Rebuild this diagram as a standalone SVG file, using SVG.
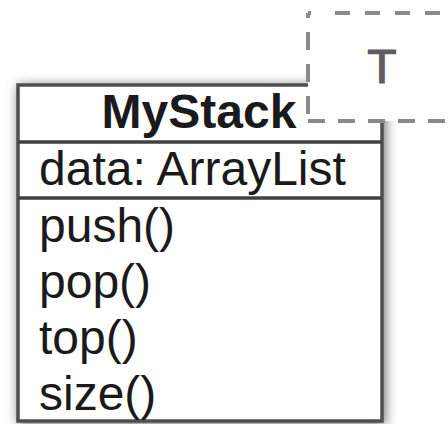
<svg xmlns="http://www.w3.org/2000/svg" width="448" height="424" viewBox="0 0 448 424">
  <defs>
    <filter id="shadow" x="-20%" y="-20%" width="140%" height="140%">
      <feDropShadow dx="2" dy="2" stdDeviation="6" flood-color="#000" flood-opacity="0.55"/>
    </filter>
  </defs>
  <style>
    .frame { fill: #fff; stroke: #505050; stroke-width: 3.5; }
    .rule { stroke: #404040; stroke-width: 3.5; }
    .name { font-family: "Liberation Sans", Arial, sans-serif; font-size: 48px; font-weight: bold; fill: #1a1a1a; }
    .item { font-family: "Liberation Sans", Arial, sans-serif; font-size: 48px; fill: #1a1a1a; }
    .pbox { fill: #fff; stroke: none; }
    .dash { fill: none; stroke: #8a8a8a; stroke-width: 4; }
    .ptext { font-family: "Liberation Sans", Arial, sans-serif; font-size: 48px; fill: #5e5e5e; stroke: #5e5e5e; stroke-width: 1.2; }
  </style>

  <!-- class box -->
  <g id="MyStack">
    <rect class="frame" x="18" y="85" width="364" height="336" filter="url(#shadow)"/>
    <line class="rule" x1="18" y1="142" x2="382" y2="142"/>
    <line class="rule" x1="18" y1="198" x2="382" y2="198"/>
    <text class="name" x="199" y="128" text-anchor="middle">MyStack</text>
    <text class="item" x="39" y="185">data: ArrayList</text>
    <text class="item" x="39" y="242">push()</text>
    <text class="item" x="39" y="298">pop()</text>
    <text class="item" x="39" y="354">top()</text>
    <text class="item" x="39" y="410">size()</text>
  </g>

  <!-- template parameter box, overlapping the class corner -->
  <g id="param-T">
    <rect class="pbox" x="308" y="13" width="150" height="108"/>
    <path class="dash" d="M308,13 h3"/>
    <path class="dash" d="M335,13 H460" stroke-dasharray="15 15"/>
    <path class="dash" d="M308,13 V121" stroke-dasharray="18 14" stroke-dashoffset="13"/>
    <path class="dash" d="M308,121 H460" stroke-dasharray="17 13"/>
    <text class="ptext" x="382" y="83" text-anchor="middle">T</text>
  </g>

  <g id="connectors"/>
</svg>
